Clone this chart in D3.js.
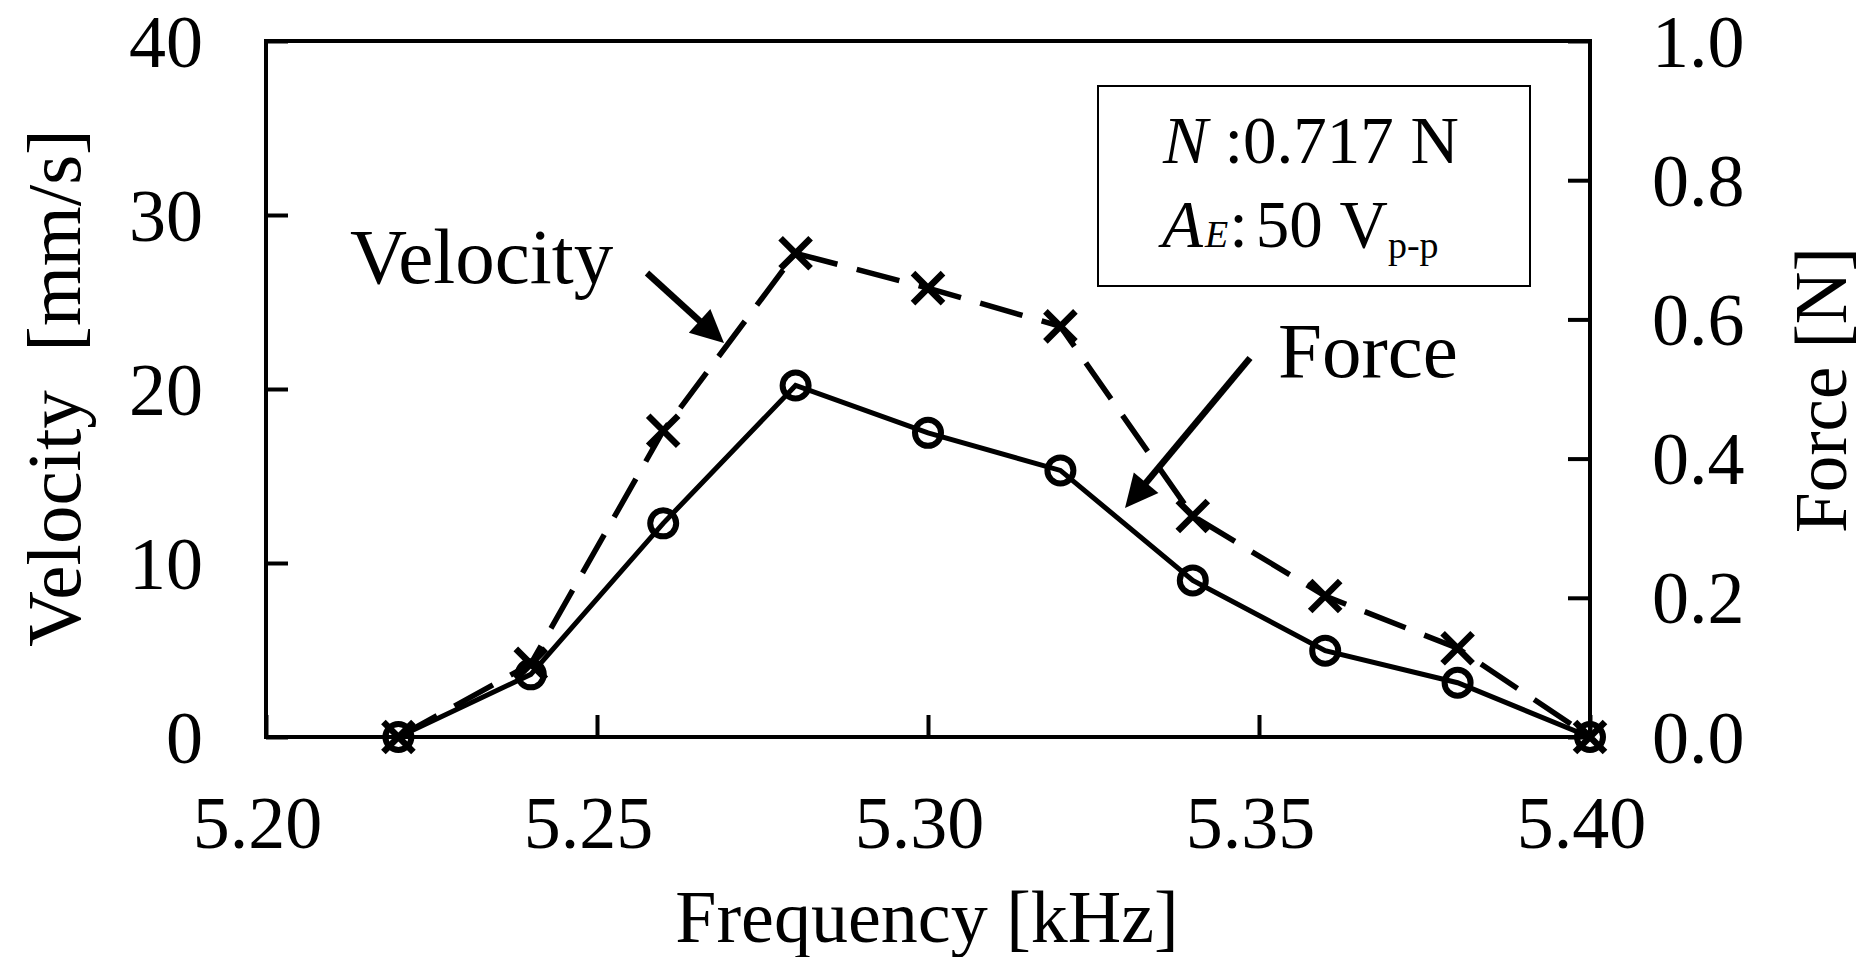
<!DOCTYPE html>
<html>
<head>
<meta charset="utf-8">
<script src="https://cdn.jsdelivr.net/npm/d3@7"></script>
<style>
  html, body { margin: 0; padding: 0; background: #fff; }
  svg { display: block; }
  text { font-family: "Liberation Serif", "Times New Roman", serif; fill: #000; }
</style>
</head>
<body>
<svg id="chart" width="1865" height="957"></svg>
<script>
// ---- data ----
const frequency = [5.22, 5.24, 5.26, 5.28, 5.30, 5.32, 5.34, 5.36, 5.38, 5.40];
const velocity  = [0, 4.2, 17.6, 27.8, 25.8, 23.6, 12.7, 8.1, 5.1, 0];
const force     = [0, 0.09, 0.307, 0.505, 0.437, 0.383, 0.225, 0.124, 0.078, 0];
const xTicks = [5.20, 5.25, 5.30, 5.35, 5.40];
const yLeftTicks = [0, 10, 20, 30, 40];
const yRightTicks = [0, 0.2, 0.4, 0.6, 0.8, 1.0];

const svg = d3.select("#chart");
const M = { left: 266, right: 1590, top: 41, bottom: 737 };
const FS = 74;

const x = d3.scaleLinear().domain([5.20, 5.40]).range([M.left, M.right]);
const yL = d3.scaleLinear().domain([0, 40]).range([M.bottom, M.top]);
const yR = d3.scaleLinear().domain([0, 1]).range([M.bottom, M.top]);

// axes
const gx = svg.append("g").attr("transform", `translate(0,${M.bottom})`)
  .call(d3.axisBottom(x).tickValues(xTicks).tickSizeInner(-22).tickSizeOuter(0).tickFormat(d3.format(".2f")));
const gyl = svg.append("g").attr("transform", `translate(${M.left},0)`)
  .call(d3.axisLeft(yL).tickValues(yLeftTicks).tickSizeInner(-22).tickSizeOuter(0).tickFormat(d3.format("d")));
const gyr = svg.append("g").attr("transform", `translate(${M.right},0)`)
  .call(d3.axisRight(yR).tickValues(yRightTicks).tickSizeInner(-22).tickSizeOuter(0).tickFormat(d3.format(".1f")));

[gx, gyl, gyr].forEach(g => {
  g.select(".domain").remove();
  g.selectAll(".tick line").attr("stroke", "#000").attr("stroke-width", 4);
  g.selectAll("text").attr("font-size", FS).attr("font-family", '"Liberation Serif","Times New Roman",serif').attr("fill", "#000");
});
gx.selectAll("text").attr("y", 111).attr("dy", 0).attr("dx", -9);
gyl.selectAll("text").attr("x", -63).attr("dy", 0).attr("y", 25);
gyr.selectAll("text").attr("x", 62).attr("dy", 0).attr("y", 25);

// frame
svg.append("rect")
  .attr("x", M.left).attr("y", M.top)
  .attr("width", M.right - M.left).attr("height", M.bottom - M.top)
  .attr("fill", "none").attr("stroke", "#000").attr("stroke-width", 4);

// lines
const lineV = d3.line().x((d, i) => x(frequency[i])).y(d => yL(d));
const lineF = d3.line().x((d, i) => x(frequency[i])).y(d => yR(d));

svg.append("path").datum(velocity).attr("d", lineV)
  .attr("fill", "none").attr("stroke", "#000").attr("stroke-width", 5.5)
  .attr("stroke-dasharray", "44,20");
svg.append("path").datum(force).attr("d", lineF)
  .attr("fill", "none").attr("stroke", "#000").attr("stroke-width", 5);

// circle markers (force)
svg.append("g").selectAll("circle").data(force).join("circle")
  .attr("cx", (d, i) => x(frequency[i])).attr("cy", d => yR(d)).attr("r", 13)
  .attr("fill", "none").attr("stroke", "#000").attr("stroke-width", 6);

// x markers (velocity)
const s = 15;
svg.append("g").selectAll("path").data(velocity).join("path")
  .attr("d", (d, i) => {
    const cx = x(frequency[i]), cy = yL(d);
    return `M${cx - s},${cy - s}L${cx + s},${cy + s}M${cx - s},${cy + s}L${cx + s},${cy - s}`;
  })
  .attr("fill", "none").attr("stroke", "#000").attr("stroke-width", 6.5);

// arrows
function arrow(x1, y1, x2, y2) {
  const dx = x2 - x1, dy = y2 - y1, L = Math.hypot(dx, dy);
  svg.append("line").attr("x1", x1).attr("y1", y1)
    .attr("x2", x2 - dx / L * 20).attr("y2", y2 - dy / L * 20)
    .attr("stroke", "#000").attr("stroke-width", 6.5);
  svg.append("path").attr("d", () => {
    const ux = dx / L, uy = dy / L, hl = 33, hw = 16;
    const bx = x2 - ux * hl, by = y2 - uy * hl;
    return `M${x2},${y2}L${bx - uy * hw},${by + ux * hw}L${bx + uy * hw},${by - ux * hw}Z`;
  }).attr("fill", "#000");
}
arrow(647, 273, 724, 343);
arrow(1250, 358, 1125, 508);

// series labels
svg.append("text").attr("x", 350).attr("y", 283).attr("font-size", 79).text("Velocity");
svg.append("text").attr("x", 1278).attr("y", 377).attr("font-size", 79).text("Force");

// info box
svg.append("rect").attr("x", 1098).attr("y", 86).attr("width", 432).attr("height", 200)
  .attr("fill", "none").attr("stroke", "#000").attr("stroke-width", 2);
const t1 = svg.append("text").attr("x", 1163).attr("y", 163).attr("font-size", 67);
t1.append("tspan").attr("font-style", "italic").text("N");
t1.append("tspan").text("\u00a0:0.717 N");
const t2 = svg.append("text").attr("x", 1162).attr("y", 247).attr("font-size", 67);
t2.append("tspan").attr("font-style", "italic").text("A");
t2.append("tspan").attr("font-style", "italic").attr("font-size", 38).attr("dx", 2).text("E");
t2.append("tspan").attr("dx", 1).text(":");
t2.append("tspan").attr("dx", 8).text("50\u00a0V");
t2.append("tspan").attr("font-size", 38).attr("dy", 11).text("p-p");

// axis titles
svg.append("text").attr("x", 927).attr("y", 942).attr("font-size", FS)
  .attr("text-anchor", "middle").text("Frequency [kHz]");
svg.append("text").attr("transform", "translate(80,388) rotate(-90)")
  .attr("font-size", 77).attr("text-anchor", "middle")
  .style("white-space", "pre").text("Velocity  [mm/s]");
svg.append("text").attr("transform", "translate(1846,390) rotate(-90)")
  .attr("font-size", 73).attr("text-anchor", "middle").text("Force [N]");
</script>
</body>
</html>
